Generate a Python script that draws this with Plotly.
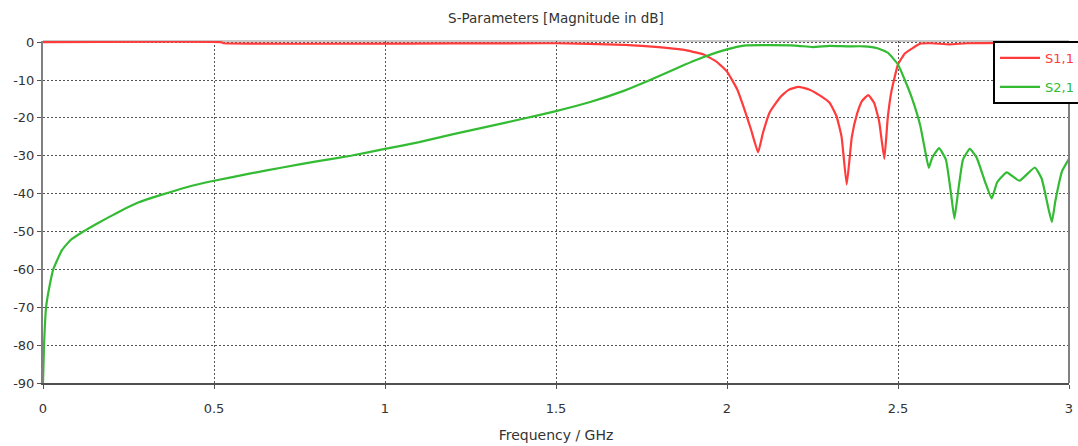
import plotly.graph_objects as go

# ---- data ----
s21_freq = [0, 0.003, 0.009, 0.02, 0.03, 0.055, 0.08, 0.118, 0.16, 0.22, 0.28, 0.35, 0.42, 0.5,
            0.6, 0.7, 0.8, 0.9, 1.0, 1.1, 1.2, 1.3, 1.4, 1.5, 1.6, 1.7, 1.77, 1.85, 1.93, 2.0,
            2.05, 2.1, 2.2, 2.25, 2.3, 2.35, 2.4, 2.44, 2.47, 2.5, 2.52, 2.54, 2.565, 2.58, 2.59,
            2.6, 2.62, 2.64, 2.655, 2.665, 2.675, 2.69, 2.71, 2.73, 2.755, 2.774, 2.79, 2.818,
            2.855, 2.9, 2.92, 2.94, 2.95, 2.96, 2.98, 3.0]
s21_db = [-90, -80, -70, -64, -60, -55, -52.3, -50, -47.8, -44.9, -42.3, -40.2, -38.3, -36.6,
          -34.8, -33.1, -31.5, -30, -28.2, -26.4, -24.3, -22.3, -20.3, -18.2, -15.8, -12.8, -10.2,
          -7, -4, -1.9, -0.9, -0.8, -0.9, -1.3, -1.0, -1.1, -1.1, -1.6, -2.8, -5.9, -10, -14.6,
          -22, -29, -33.2, -30.5, -28, -31, -40, -46.6, -40, -31, -28.2, -30.5, -37, -41.3, -37,
          -34.4, -36.6, -33.1, -36, -44, -47.5, -42, -34, -30.8]

s11_freq = [0, 0.52, 0.53, 1.5, 1.7, 1.8, 1.87, 1.93, 1.97, 2.0, 2.03, 2.05, 2.07, 2.091, 2.105,
            2.125, 2.155, 2.18, 2.209, 2.24, 2.27, 2.3, 2.32, 2.335, 2.35, 2.365, 2.38, 2.395,
            2.413, 2.43, 2.445, 2.46, 2.47, 2.481, 2.5, 2.52, 2.544, 2.565, 2.6, 2.65, 2.7, 2.8,
            3.0]
s11_db = [0, 0, -0.3, -0.3, -0.7, -1.3, -2, -3.2, -5.2, -7.8, -12.5, -17.5, -23, -29.1, -24,
          -18.5, -14.6, -12.6, -11.8, -12.5, -14, -16, -19.5, -25, -37.6, -25, -19, -15.5, -14,
          -16, -21, -30.8, -20, -12.9, -5.9, -3, -1.5, -0.4, -0.3, -0.6, -0.3, -0.2, -0.2]

x_ticks = [0, 0.5, 1, 1.5, 2, 2.5, 3]
x_tick_labels = ["0", "0.5", "1", "1.5", "2", "2.5", "3"]
y_ticks = [0, -10, -20, -30, -40, -50, -60, -70, -80, -90]
y_tick_labels = ["0", "-10", "-20", "-30", "-40", "-50", "-60", "-70", "-80", "-90"]

RED = "#ff3b3b"
GREEN = "#33bb33"
FONT = "DejaVu Sans"
TXT = "#333333"

fig = go.Figure()
fig.add_trace(go.Scatter(x=s11_freq, y=s11_db, mode="lines",
                         line=dict(color=RED, width=2.2, shape="spline", smoothing=0.4),
                         name=f'<span style="color:{RED}">S1,1</span>', legendgroup="a"))
fig.add_trace(go.Scatter(x=s21_freq, y=s21_db, mode="lines",
                         line=dict(color=GREEN, width=2.2, shape="spline", smoothing=0.4),
                         name=f'<span style="color:{GREEN}">S2,1</span>', legendgroup="b"))

fig.update_layout(
    width=1078, height=446,
    margin=dict(l=43, r=9, t=41, b=63, autoexpand=False),
    paper_bgcolor="white", plot_bgcolor="white",
    font=dict(family=FONT, size=13, color=TXT),
    title=dict(text="S-Parameters [Magnitude in dB]", x=0.5, xref="paper", xanchor="center",
               y=1 - 18 / 446, yref="container", yanchor="middle",
               font=dict(family=FONT, size=13.5, color=TXT)),
    showlegend=True,
    legend=dict(x=(993 - 43) / 1026, y=1.0, xanchor="left", yanchor="top",
                bgcolor="white", bordercolor="black", borderwidth=2,
                font=dict(family=FONT, size=13), traceorder="grouped", tracegroupgap=9,
                itemwidth=40),
)

fig.update_xaxes(range=[0, 3], tickvals=x_ticks, ticktext=x_tick_labels,
                 showgrid=True, gridcolor="#555555", gridwidth=1, griddash="2px,2px",
                 zeroline=False, showline=True, linecolor="#505050", linewidth=2,
                 ticks="outside", ticklen=4, tickcolor="#505050", ticklabelstandoff=8,
                 tickfont=dict(size=13, color=TXT),
                 title=dict(text="Frequency / GHz", standoff=16,
                            font=dict(size=14, color=TXT)))
fig.update_yaxes(range=[-90, 0.3], tickvals=y_ticks, ticktext=y_tick_labels,
                 showgrid=True, gridcolor="#555555", gridwidth=1, griddash="2px,2px",
                 zeroline=False, showline=True, linecolor="#808080", linewidth=2,
                 ticks="outside", ticklen=4, tickcolor="#505050",
                 tickfont=dict(size=13, color=TXT))

# frame: light top border and grey right border
fig.add_shape(type="line", xref="paper", yref="paper", x0=0, x1=1, y0=1, y1=1,
              line=dict(color="#c8c8c8", width=2), layer="below")
fig.add_shape(type="line", xref="paper", yref="paper", x0=1, x1=1, y0=0, y1=1,
              line=dict(color="#808080", width=2))

fig.write_html("out.html", config={"displayModeBar": False},
               post_script="document.body.style.margin='0';")
